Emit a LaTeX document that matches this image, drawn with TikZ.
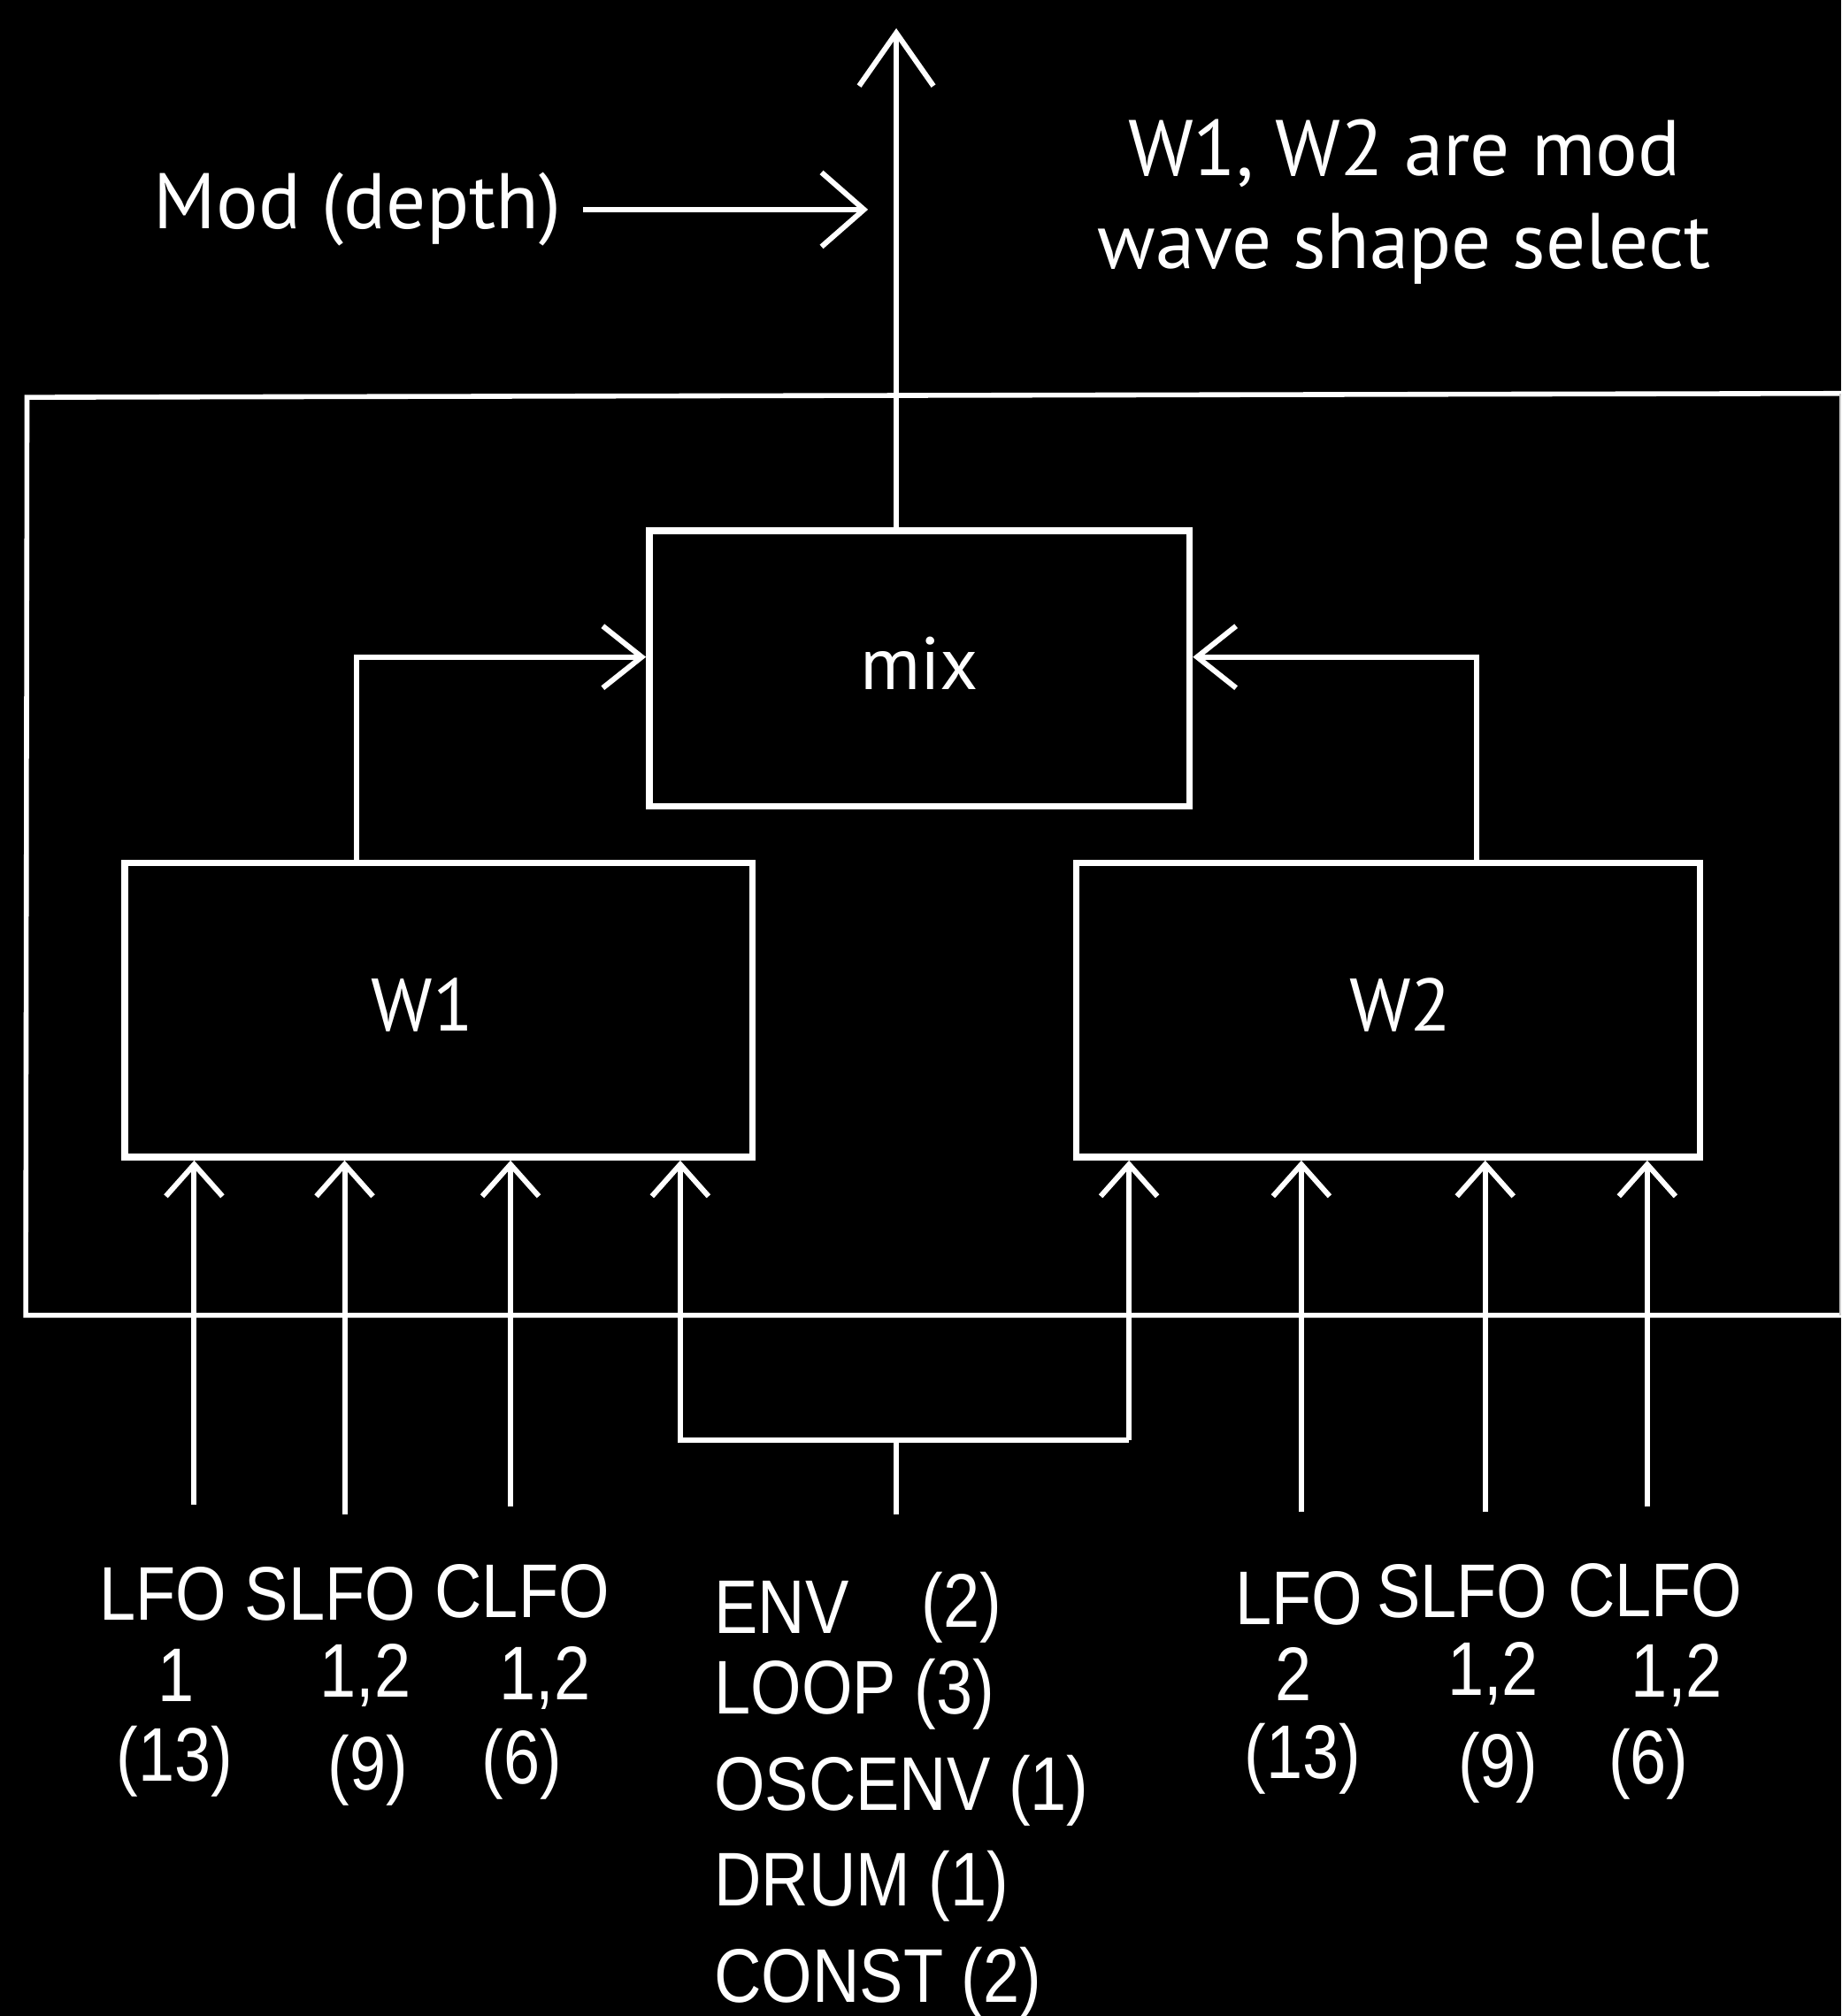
\documentclass[tikz,border=0pt]{standalone}
\usepackage{fontspec}
\setmainfont{PT Sans}
\newfontfamily\condfont[FakeStretch=0.86]{Liberation Sans}
\usetikzlibrary{arrows.meta}
\begin{document}
\begin{tikzpicture}[x=0.3635pt,y=-0.3635pt,
  wline/.style={draw=white,line width=1.5pt},
  box/.style={draw=white,line width=1.9pt,text=white,font=\fontsize{21}{25}\selectfont,inner sep=0pt},
  inarrow/.style={wline,-{Straight Barb[length=9pt,width=16pt,line width=1.5pt]}},
  mixarrow/.style={wline,-{Straight Barb[length=11pt,width=17.5pt,line width=1.5pt]}},
  bigarrow/.style={wline,-{Straight Barb[length=15pt,width=21pt,line width=1.5pt]}},
  toptext/.style={text=white,font=\fontsize{22.3}{26.5}\selectfont,inner sep=0pt},
  lbl/.style={text=white,font=\condfont\fontsize{21.5}{24}\selectfont,inner sep=0pt},
  lblw/.style={lbl,anchor=west}
]
\fill[black] (0,0) rectangle (1432,1568);
\useasboundingbox (0,0) rectangle (1432,1568);

% outer frame
\draw[wline,line width=1.4pt] (1432,306) -- (21,309) -- (20,1023) -- (1432,1023);
\draw[draw=white!80!black,line width=0.5pt] (1431.3,306) -- (1431.3,1023);

% boxes
\node[box,minimum width=152.7pt,minimum height=77.8pt] (mix) at (715,520) {\raisebox{3pt}{mix}};
\node[box,minimum width=177.4pt,minimum height=83.2pt] (W1) at (341,785.5) {\hspace*{-9pt}\raisebox{3pt}{W1}};
\node[box,minimum width=176.3pt,minimum height=83.2pt] (W2) at (1079.5,785.5) {\hspace*{7pt}\raisebox{3pt}{W2}};

% output and mod depth
\coordinate (topc) at (697,22);
\draw[bigarrow] (mix.north -| topc) -- (topc);
\node[toptext] (mod) at (278,163) {Mod (depth)};
\coordinate (modend) at (675,163);
\draw[bigarrow,-{Straight Barb[length=12pt,width=21pt,line width=1.5pt]}] ([xshift=6pt]mod.east) -- (modend);
\node[toptext,align=center] (note) at (1092,157) {W1, W2 are mod\\wave shape select};

% W -> mix
\coordinate (a1) at (277,511);
\coordinate (a2) at (1148,511);
\draw[mixarrow] (W1.north -| a1) -- (a1) -- (a1 -| mix.west);
\draw[mixarrow] (W2.north -| a2) -- (a2) -- (a2 -| mix.east);

% W1 inputs
\coordinate (l1) at (151,1170);
\coordinate (l2) at (268,1178);
\coordinate (l3) at (397,1172);
\draw[inarrow] (l1) -- (l1 |- W1.south);
\draw[inarrow] (l2) -- (l2 |- W1.south);
\draw[inarrow] (l3) -- (l3 |- W1.south);

% shared bracket
\coordinate (bl) at (529,1120);
\coordinate (br) at (878,1120);
\coordinate (bc) at (697,1120);
\coordinate (bs) at (697,1178);
\draw[inarrow] (bl -| br) -- (br) -- (br |- W2.south);
\draw[inarrow] (br) -- (bl) -- (bl |- W1.south);
\draw[wline] (bs) -- (bc);

% W2 inputs
\coordinate (r1) at (1012,1176);
\coordinate (r2) at (1155,1176);
\coordinate (r3) at (1281,1172);
\draw[inarrow] (r1) -- (r1 |- W2.south);
\draw[inarrow] (r2) -- (r2 |- W2.south);
\draw[inarrow] (r3) -- (r3 |- W2.south);

% left labels
\node[lbl] (tl1) at (127,1240) {LFO};
\node[lbl] (tl2) at (257,1240) {SLFO};
\node[lbl] (tl3) at (406,1238) {CLFO};
\node[lbl] (nl1) at (137,1303) {1};
\node[lbl] (nl2) at (284,1303) {1,2};
\node[lbl] (nl3) at (424,1305) {1,2};
\node[lbl] (cl1) at (136,1370) {(13)};
\node[lbl] (cl2) at (286,1377) {(9)};
\node[lbl] (cl3) at (406,1372) {(6)};

% right labels
\node[lbl] (tr1) at (1010,1243) {LFO};
\node[lbl] (tr2) at (1137,1238) {SLFO};
\node[lbl] (tr3) at (1287,1237) {CLFO};
\node[lbl] (nr1) at (1006,1302) {2};
\node[lbl] (nr2) at (1161,1302) {1,2};
\node[lbl] (nr3) at (1304,1303) {1,2};
\node[lbl] (cr1) at (1013,1368) {(13)};
\node[lbl] (cr2) at (1165,1375) {(9)};
\node[lbl] (cr3) at (1282,1372) {(6)};

% middle list
\node[lblw] (m1) at (555,1250) {ENV};
\node[lblw] (m1n) at (716,1250) {(2)};
\node[lblw] (m2) at (555,1318) {LOOP (3)};
\node[lblw] (m3) at (555,1393) {OSCENV (1)};
\node[lblw] (m4) at (555,1467) {DRUM (1)};
\node[lblw] (m5) at (555,1542) {CONST (2)};
\end{tikzpicture}
\end{document}
